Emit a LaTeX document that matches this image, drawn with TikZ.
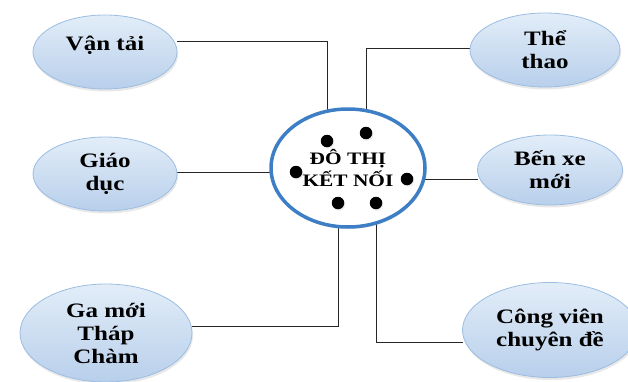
\documentclass[tikz,border=0pt]{standalone}
\usepackage{fontspec}
\setmainfont{Liberation Serif}[FakeStretch=1.22]
\usetikzlibrary{positioning}
\usetikzlibrary{calc}
\usetikzlibrary{shapes.geometric}
\usetikzlibrary{shadows}
\usetikzlibrary{backgrounds}

\definecolor{ovaltop}{RGB}{226,237,248}
\definecolor{ovalbot}{RGB}{184,207,235}
\definecolor{ovaledge}{RGB}{156,189,226}
\definecolor{ringblue}{RGB}{62,126,196}

\begin{document}
\begin{tikzpicture}[
    x=1pt, y=1pt,
    oval/.style={ellipse, draw=ovaledge, line width=0.8pt, top color=ovaltop, bottom color=ovalbot,
        align=center, outer sep=0pt, inner sep=0pt, font=\fontsize{20.5}{23}\selectfont\bfseries,
        drop shadow={opacity=0.18, shadow xshift=1pt, shadow yshift=-2.5pt}},
    hub/.style={ellipse, draw=ringblue, line width=3.5pt, fill=white, align=center,
        font=\fontsize{17.5}{21.5}\selectfont\bfseries,
        drop shadow={opacity=0.18, shadow xshift=1pt, shadow yshift=-2pt}},
    bullet/.style={circle, fill=black, inner sep=0pt, minimum size=12.5pt,
        drop shadow={opacity=0.15, shadow xshift=1pt, shadow yshift=-1.5pt}},
    link/.style={draw=black!85, line width=0.8pt},
]
    \useasboundingbox (0,0) rectangle (628,381);

    \node[hub, minimum width=154pt, minimum height=118pt] (C) at (348,213) {ĐÔ THỊ\\KẾT NỐI};

    \node[oval, minimum width=144pt, minimum height=74pt, text depth=17pt] (N1) at (105,329) {Vận tải};
    \node[oval, minimum width=150pt, minimum height=74pt] (N2) at (545,331) {Thể\\thao};
    \node[oval, minimum width=144pt, minimum height=74pt] (N3) at (105,207) {Giáo\\dục};
    \node[oval, minimum width=145pt, minimum height=70pt] (N4) at (550,211) {Bến xe\\mới};
    \node[oval, minimum width=172pt, minimum height=98pt] (N5) at (106,48) {Ga mới\\Tháp\\Chàm};
    \node[oval, minimum width=175pt, minimum height=95pt] (N6) at (550,51) {Công viên\\chuyên đề};

    \node[bullet] (D1) at ($(C)+(-21,27)$) {};
    \node[bullet] (D2) at ($(C)+(18,35)$) {};
    \node[bullet] (D3) at ($(C)+(-52,-4)$) {};
    \node[bullet] (D4) at ($(C)+(59,-11)$) {};
    \node[bullet] (D5) at ($(C)+(-10,-35)$) {};
    \node[bullet] (D6) at ($(C)+(28,-35)$) {};

    \begin{scope}[on background layer]
        \draw[link] (D1.center) |- ($(N1.east)+(0,11)$);
        \draw[link] (D2.center) |- ($(N2.west)+(0,2)$);
        \draw[link] (D3.center) -- (D3 -| N3.east);
        \draw[link] (D4.center) -- (D4 -| N4.west);
        \draw[link] (D5.center) |- ($(N5.east)+(0,7)$);
        \draw[link] (D6.center) |- ($(N6.west)+(0,-12)$);
    \end{scope}
\end{tikzpicture}
\end{document}
